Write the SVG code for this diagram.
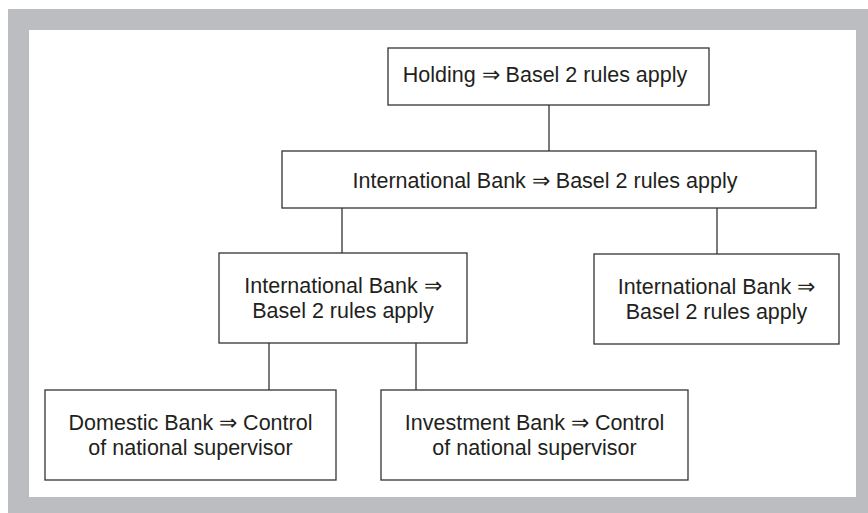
<svg xmlns="http://www.w3.org/2000/svg" width="868" height="513" viewBox="0 0 868 513">
<style>
.box{fill:#fff;stroke:#333;stroke-width:1.3}
.conn{stroke:#333;stroke-width:1.3;fill:none}
text{font-family:"Liberation Sans",sans-serif;font-size:21.5px;fill:#231f20;text-anchor:middle}
</style>
<rect x="8" y="9" width="860" height="504" fill="#bcbdc0"/>
<rect x="29" y="30" width="827" height="467" fill="#fff"/>
<g id="connectors">
<line class="conn" x1="549" y1="105" x2="549" y2="151"/>
<line class="conn" x1="342" y1="208" x2="342" y2="253"/>
<line class="conn" x1="717" y1="208" x2="717" y2="254"/>
<line class="conn" x1="269" y1="343" x2="269" y2="390"/>
<line class="conn" x1="416" y1="343" x2="416" y2="390"/>
</g>
<g id="holding">
<rect class="box" x="388" y="48" width="321" height="57"/>
<text x="545" y="82">Holding ⇒ Basel 2 rules apply</text>
</g>
<g id="intl-top">
<rect class="box" x="282" y="151" width="534" height="57"/>
<text x="545" y="188">International Bank ⇒ Basel 2 rules apply</text>
</g>
<g id="intl-left">
<rect class="box" x="219" y="253" width="248" height="90"/>
<text x="343" y="293">International Bank ⇒</text>
<text x="343" y="318">Basel 2 rules apply</text>
</g>
<g id="intl-right">
<rect class="box" x="594" y="254" width="245" height="90"/>
<text x="716.5" y="294">International Bank ⇒</text>
<text x="716.5" y="319">Basel 2 rules apply</text>
</g>
<g id="domestic">
<rect class="box" x="45" y="390" width="291" height="90"/>
<text x="190.5" y="430">Domestic Bank ⇒ Control</text>
<text x="190.5" y="455">of national supervisor</text>
</g>
<g id="investment">
<rect class="box" x="381" y="390" width="307" height="90"/>
<text x="534.5" y="430">Investment Bank ⇒ Control</text>
<text x="534.5" y="455">of national supervisor</text>
</g>
</svg>
